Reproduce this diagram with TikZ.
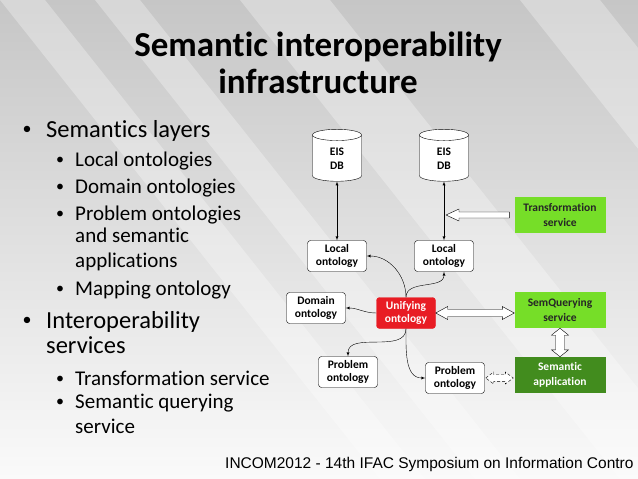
\documentclass[tikz,border=0pt]{standalone}
\usepackage{fontspec}
\setmainfont{Carlito}[Ligatures=NoCommon]
\newfontfamily\footfont{Liberation Sans}
\usetikzlibrary{shapes.geometric,arrows,calc}

\definecolor{bgtop}{RGB}{198,198,198}
\definecolor{bgbot}{RGB}{250,250,250}
\definecolor{servgreen}{RGB}{118,222,40}
\definecolor{appgreen}{RGB}{66,140,30}
\definecolor{unired}{RGB}{232,28,36}

\tikzset{
  onto/.style={draw, thin, rounded corners=3pt, fill=white, align=center,
    font=\bfseries\fontsize{11.5}{13}\selectfont, minimum width=59pt,
    minimum height=31pt, inner sep=1pt},
  db/.style={cylinder, shape border rotate=90, aspect=0.7, draw, thin,
    fill=white, align=center, font=\bfseries\fontsize{11.5}{14}\selectfont,
    minimum width=49pt, minimum height=52pt, inner sep=1pt},
  service/.style={fill=servgreen, align=center, text=black!85,
    font=\bfseries\fontsize{11.5}{15}\selectfont, minimum width=91pt,
    minimum height=36pt, inner sep=1pt},
  hollow/.style={draw, thin, fill=white},
  lvlone/.style={anchor=base west, inner sep=0pt, font=\fontsize{24.5}{28}\selectfont},
  lvltwo/.style={anchor=base west, inner sep=0pt, font=\fontsize{21}{24}\selectfont},
  dot/.style={anchor=base, inner sep=0pt}
}

\begin{document}
\begin{tikzpicture}[x=1pt,y=-1pt]
    \clip (0,0) rectangle (638,479);
    \shade [top color=bgtop, bottom color=bgbot] (0,0) rectangle (638,479);
    % diagonal stripes of the slide background
    \foreach \a/\b in {0/45, 95/140, 240/330, 520/600}
      \fill [white, opacity=0.3] (\a,0) -- (\b,0) -- (\b+380,479) -- (\a+380,479) -- cycle;

    % title
    \node [font=\bfseries\fontsize{35}{37}\selectfont, align=center] (title) at (318,63)
      {Semantic interoperability\\infrastructure};

    % bullet list
    \node [lvlone] (semlay) at (46,137) {Semantics layers};
    \node [lvlone] (interop) at (46,328) {Interoperability};
    \node [lvlone] (interserv) at (46,353) {services};
    \node [dot, font=\fontsize{18}{20}\selectfont] (dsemlay) at (27,134) {\textbullet};
    \node [dot, font=\fontsize{18}{20}\selectfont] (dinterop) at (27,325) {\textbullet};
    \foreach \y/\t in {166/Local ontologies, 193/Domain ontologies, 220/Problem ontologies,
        295/Mapping ontology, 385/Transformation service, 408/Semantic querying}
      {
      \node [lvltwo] (item\y) at (75,\y) {\t};
      \node [dot, font=\fontsize{16}{18}\selectfont] (dot\y) at (60,\y-2) {\textbullet};
      }
    \node [lvltwo] (andsem) at (75,242) {and semantic};
    \node [lvltwo] (apps) at (75,267) {applications};
    \node [lvltwo] (servq) at (75,433) {service};

    % diagram nodes
    \node [db] (db1) at (337,159) {EIS\\DB};
    \node [db] (db2) at (444,159) {EIS\\DB};
    \node [onto] (loc1) at (337,256) {Local\\ontology};
    \node [onto] (loc2) at (444,256) {Local\\ontology};
    \node [onto] (dom) at (316,308) {Domain\\ontology};
    \node [onto, fill=unired, draw=unired, text=white] (unif) at (406,313) {Unifying\\ontology};
    \node [onto] (prob1) at (348,372) {Problem\\ontology};
    \node [onto] (prob2) at (455,378) {Problem\\ontology};
    \node [service] (trans) at (560,215) {Transformation\\service};
    \node [service] (semq) at (560,310) {SemQuerying\\service};
    \node [service, fill=appgreen, text=white] (sapp) at (560,375) {Semantic\\application};

    % connectors
    \draw [thin,latex-latex] (db1.south) -- (loc1.north);
    \draw [thin,latex-latex] (db2.south) -- (loc2.north);
    \draw [thin,-latex] (unif.north) to[out=90,in=0] (loc1.east);
    \draw [thin,-latex] (unif.north) to[out=90,in=-90] (loc2.south);
    \draw [thin,-latex] (unif.west) to[out=180,in=0] (dom.east);
    \draw [thin,-latex] (unif.south) to[out=-90,in=90] (prob1.north);
    \draw [thin,-latex] (unif.south) to[out=-90,in=180] (prob2.west);

    % block arrows
    \coordinate (ttip) at ([xshift=2pt]db2.south |- trans.west);
    \coordinate (ttail) at ([xshift=-5pt]trans.west);
    \draw [hollow] let \p1=(ttip), \p2=(ttail) in
      (\x1,\y1) -- (\x1+13pt,\y1+6pt) -- (\x1+13pt,\y1+3pt) -- (\x2,\y1+3pt)
      -- (\x2,\y1-3pt) -- (\x1+13pt,\y1-3pt) -- (\x1+13pt,\y1-6pt) -- cycle;
    \draw [hollow] let \p1=(unif.east), \p2=(semq.west) in
      (\x1,\y1) -- (\x1+12pt,\y1+6.5pt) -- (\x1+12pt,\y1+3.5pt) -- (\x2-12pt,\y1+3.5pt)
      -- (\x2-12pt,\y1+6.5pt) -- (\x2,\y1) -- (\x2-12pt,\y1-6.5pt) -- (\x2-12pt,\y1-3.5pt)
      -- (\x1+12pt,\y1-3.5pt) -- (\x1+12pt,\y1-6.5pt) -- cycle;
    \draw [hollow] let \p1=(semq.south), \p2=(sapp.north) in
      (\x1,\y1) -- (\x1+8.5pt,\y1-7pt) -- (\x1+4.5pt,\y1-7pt) -- (\x1+4.5pt,\y2+7pt)
      -- (\x1+8.5pt,\y2+7pt) -- (\x1,\y2) -- (\x1-8.5pt,\y2+7pt) -- (\x1-4.5pt,\y2+7pt)
      -- (\x1-4.5pt,\y1-7pt) -- (\x1-8.5pt,\y1-7pt) -- cycle;
    \draw [hollow, densely dashed] let \p1=(prob2.east), \p2=(sapp.west) in
      (\x1+1pt,\y1) -- (\x1+9pt,\y1+6pt) -- (\x1+9pt,\y1+3.3pt) -- (\x2-9pt,\y1+3.3pt)
      -- (\x2-9pt,\y1+6pt) -- (\x2-1pt,\y1) -- (\x2-9pt,\y1-6pt) -- (\x2-9pt,\y1-3.3pt)
      -- (\x1+9pt,\y1-3.3pt) -- (\x1+9pt,\y1-6pt) -- cycle;

    % footer
    \node [font=\footfont\fontsize{15.5}{17}\selectfont, anchor=base west, inner sep=0pt] (foot)
      at (225,468) {INCOM2012 - 14th IFAC Symposium on Information Contro};
\end{tikzpicture}
\end{document}
